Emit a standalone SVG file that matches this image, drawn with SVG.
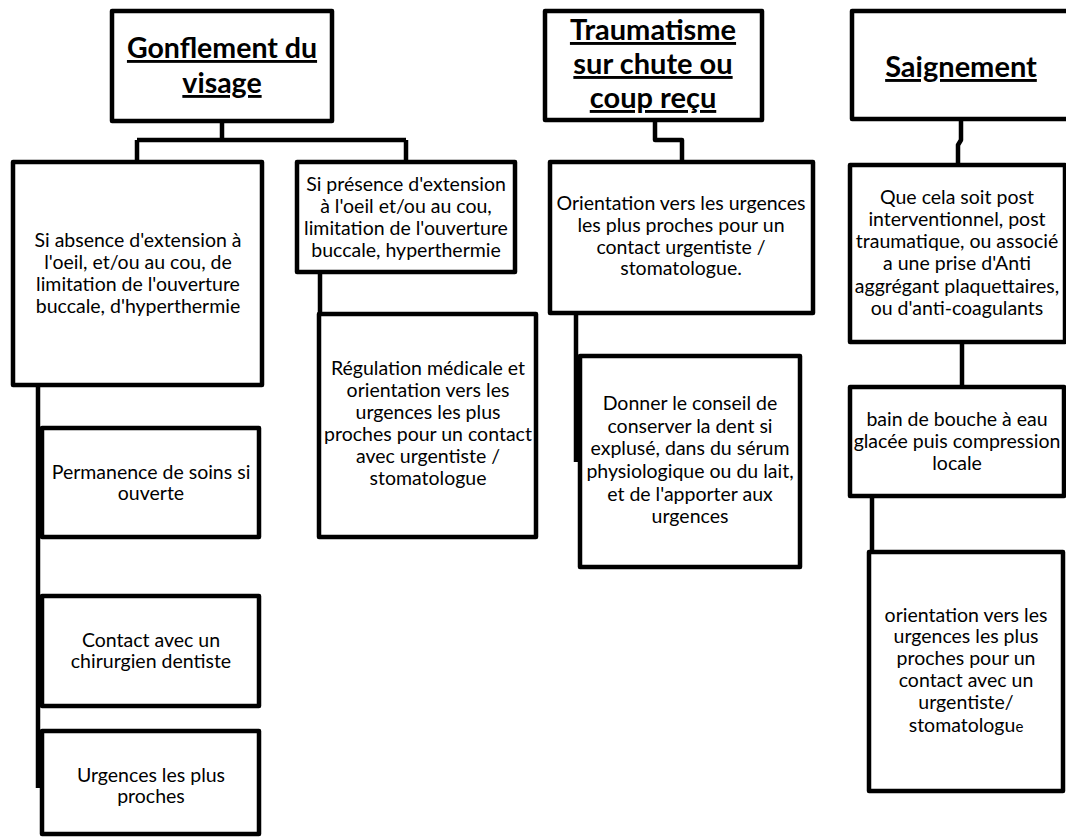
<svg xmlns="http://www.w3.org/2000/svg" width="1066" height="838" viewBox="0 0 1066 838">
<style>
.box{fill:#fff;stroke:#000;stroke-width:4.5;stroke-linejoin:round}
.conn{fill:none;stroke:#000;stroke-width:4.5;stroke-linejoin:round}
text{font-family:Lato,"Liberation Sans",sans-serif;fill:#000;text-anchor:middle}
.t{font-size:19.5px}
.h{font-size:29px;font-weight:bold;text-decoration:underline}
</style>
<rect width="1066" height="838" fill="#fff"/>
<g id="connectors">
<path class="conn" d="M222,121 V140 M137,140 H406 M137,140 V162 M406,140 V162"/>
<path class="conn" d="M320,272 V314"/>
<path class="conn" d="M38,385 V788"/>
<path class="conn" d="M655,120 V140 H682 V162"/>
<path class="conn" d="M576,313 V462"/>
<path class="conn" d="M961,119 V140 L958,145 V165"/>
<path class="conn" d="M962,342 V387"/>
<path class="conn" d="M872,496 V552"/>
</g>
<g id="n-gonflement">
<rect class="box" x="112" y="11" width="220" height="110"/>
<text class="h" x="222" y="58" style="font-size:28.5px">Gonflement du</text>
<text class="h" x="222" y="93" style="font-size:28.5px">visage</text>
</g>
<g id="n-absence">
<rect class="box" x="13" y="162" width="249" height="223"/>
<text class="t" x="138" y="247">Si absence d'extension à</text>
<text class="t" x="138" y="269">l'oeil, et/ou au cou, de</text>
<text class="t" x="138" y="291">limitation de l'ouverture</text>
<text class="t" x="138" y="313">buccale, d'hyperthermie</text>
</g>
<g id="n-presence">
<rect class="box" x="297" y="162" width="218" height="110"/>
<text class="t" x="406" y="191">Si présence d'extension</text>
<text class="t" x="406" y="213">à l'oeil et/ou au cou,</text>
<text class="t" x="406" y="235">limitation de l'ouverture</text>
<text class="t" x="406" y="257">buccale, hyperthermie</text>
</g>
<g id="n-regulation">
<rect class="box" x="319" y="314" width="217" height="223"/>
<text class="t" x="428" y="375">Régulation médicale et</text>
<text class="t" x="428" y="397">orientation vers les</text>
<text class="t" x="428" y="419">urgences les plus</text>
<text class="t" x="428" y="441">proches pour un contact</text>
<text class="t" x="428" y="463">avec urgentiste /</text>
<text class="t" x="428" y="485">stomatologue</text>
</g>
<g id="n-permanence">
<rect class="box" x="42" y="428" width="217" height="109"/>
<text class="t" x="151" y="479">Permanence de soins si</text>
<text class="t" x="151" y="500">ouverte</text>
</g>
<g id="n-contact">
<rect class="box" x="42" y="596" width="217" height="110"/>
<text class="t" x="151" y="647">Contact avec un</text>
<text class="t" x="151" y="668">chirurgien dentiste</text>
</g>
<g id="n-urgences">
<rect class="box" x="42" y="731" width="217" height="103"/>
<text class="t" x="151" y="782">Urgences les plus</text>
<text class="t" x="151" y="803">proches</text>
</g>
<g id="n-traumatisme">
<rect class="box" x="545" y="11" width="217" height="109"/>
<text class="h" x="653" y="40">Traumatisme</text>
<text class="h" x="653" y="74">sur chute ou</text>
<text class="h" x="653" y="108">coup reçu</text>
</g>
<g id="n-orientation">
<rect class="box" x="550" y="162" width="263" height="151"/>
<text class="t" x="681" y="210">Orientation vers les urgences</text>
<text class="t" x="681" y="232">les plus proches pour un</text>
<text class="t" x="681" y="254">contact urgentiste /</text>
<text class="t" x="681" y="275">stomatologue.</text>
</g>
<g id="n-donner">
<rect class="box" x="580" y="356" width="220" height="211"/>
<text class="t" x="690" y="410">Donner le conseil de</text>
<text class="t" x="690" y="433">conserver la dent si</text>
<text class="t" x="690" y="455">explusé, dans du sérum</text>
<text class="t" x="690" y="478">physiologique ou du lait,</text>
<text class="t" x="690" y="501">et de l'apporter aux</text>
<text class="t" x="690" y="523">urgences</text>
</g>
<g id="n-saignement">
<rect class="box" x="852" y="11" width="230" height="108"/>
<text class="h" x="961" y="77">Saignement</text>
</g>
<g id="n-quecela">
<rect class="box" x="850" y="165" width="215" height="177"/>
<text class="t" x="957" y="204">Que cela soit post</text>
<text class="t" x="957" y="226">interventionnel, post</text>
<text class="t" x="957" y="248">traumatique, ou associé</text>
<text class="t" x="957" y="270">a une prise d'Anti</text>
<text class="t" x="957" y="293">aggrégant plaquettaires,</text>
<text class="t" x="957" y="315">ou d'anti-coagulants</text>
</g>
<g id="n-bain">
<rect class="box" x="850" y="387" width="214" height="109"/>
<text class="t" x="957" y="426">bain de bouche à eau</text>
<text class="t" x="957" y="448">glacée puis compression</text>
<text class="t" x="957" y="470">locale</text>
</g>
<g id="n-orientation2">
<rect class="box" x="869" y="552" width="194" height="239"/>
<text class="t" x="966" y="622">orientation vers les</text>
<text class="t" x="966" y="643">urgences les plus</text>
<text class="t" x="966" y="665">proches pour un</text>
<text class="t" x="966" y="687">contact avec un</text>
<text class="t" x="966" y="709">urgentiste/</text>
<text class="t" x="966" y="732">stomatologu<tspan font-size="15px">e</tspan></text>
</g>
</svg>
